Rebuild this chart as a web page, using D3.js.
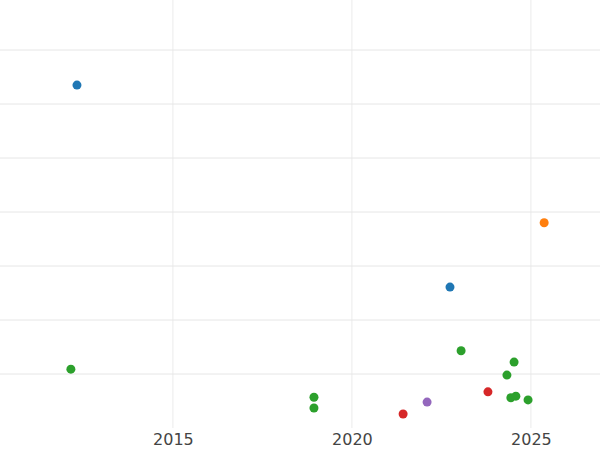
<!DOCTYPE html>
<html>
<head>
<meta charset="utf-8">
<script src="https://cdn.jsdelivr.net/npm/d3@7"></script>
<style>body{margin:0;background:#fff}</style>
</head>
<body>
<div id="chart"></div>
<script>
// data
var years  = [2012.32, 2012.15, 2018.94, 2018.94, 2021.43, 2022.10, 2022.74, 2023.05, 2023.80, 2024.33, 2024.53, 2024.44, 2024.58, 2024.92, 2025.37];
var values = [6.35, 1.09, 0.57, 0.37, 0.26, 0.48, 2.61, 1.43, 0.67, 0.98, 1.22, 0.56, 0.59, 0.52, 3.80];
var groups = ["blue", "green", "green", "green", "red", "purple", "blue", "green", "red", "green", "green", "green", "green", "green", "orange"];
var xTicks = [2015, 2020, 2025];
var yGrid = [1, 2, 3, 4, 5, 6, 7];

var colors = {blue: "#1f77b4", orange: "#ff7f0e", green: "#2ca02c", red: "#d62728", purple: "#9467bd"};

var width = 600, height = 450;

var svg = d3.select("#chart")
  .append("svg")
    .attr("width", width)
    .attr("height", height);

var x = d3.scaleLinear()
  .domain([2010.17, 2026.93])
  .range([0, width]);

var y = d3.scaleLinear()
  .domain([0, 7])
  .range([428, 50]);

// gridlines
svg.append("g")
  .selectAll("line")
  .data(xTicks)
  .enter().append("line")
    .attr("x1", function(d) { return x(d); })
    .attr("x2", function(d) { return x(d); })
    .attr("y1", 0)
    .attr("y2", 428)
    .attr("stroke", "#ebebeb");

svg.append("g")
  .selectAll("line")
  .data(yGrid)
  .enter().append("line")
    .attr("x1", 0)
    .attr("x2", width)
    .attr("y1", function(d) { return y(d); })
    .attr("y2", function(d) { return y(d); })
    .attr("stroke", "#e6e6e6");

// x axis labels
var xAxis = svg.append("g")
  .attr("transform", "translate(0,428)")
  .call(d3.axisBottom(x).tickValues(xTicks).tickFormat(d3.format("d")).tickSize(0).tickPadding(6));
xAxis.select(".domain").remove();
xAxis.selectAll("text")
  .attr("font-family", "DejaVu Sans")
  .attr("font-size", 16)
  .attr("fill", "#444");

// points
svg.append("g")
  .selectAll("circle")
  .data(years)
  .enter().append("circle")
    .attr("cx", function(d) { return x(d); })
    .attr("cy", function(d, i) { return y(values[i]); })
    .attr("r", 4.5)
    .attr("fill", function(d, i) { return colors[groups[i]]; });
</script>
</body>
</html>
